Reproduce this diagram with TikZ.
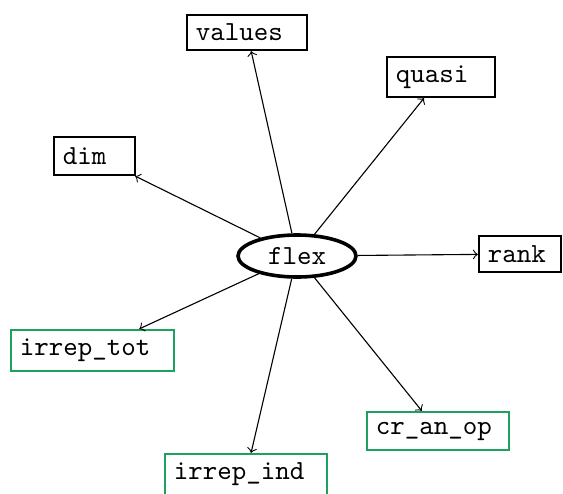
\documentclass[tikz,border=0pt]{standalone}
\usetikzlibrary{shapes.geometric}
\definecolor{boxgreen}{RGB}{30,160,95}
\tikzset{
  every node/.style={font=\ttfamily},
  keybox/.style={draw=black, line width=0.8pt, rectangle, inner xsep=3.2pt,
    inner ysep=0pt, align=left},
  subbox/.style={keybox, draw=boxgreen},
  hub/.style={draw=black, line width=1.3pt, ellipse, inner sep=0pt,
    minimum width=118*0.362pt, minimum height=42*0.362pt},
  link/.style={->, line width=0.4pt},
}
% a box given by its left, right, top and bottom edges (in px units)
\newcommand{\edgebox}[7]{%
  \node[#1, text width={(#4-#3)*0.362pt-6.4pt}, minimum height={(#6-#5)*0.362pt}]
    (#2) at ({(#3+#4)/2},{(#5+#6)/2}) {#7};}
\begin{document}
\begin{tikzpicture}[x=0.362pt, y=-0.362pt]
\useasboundingbox (0,0) rectangle (563,493);
\node[hub] (flex) at (297,256) {flex};
\edgebox{keybox}{values}{187}{307}{15}{50}{values}
\edgebox{keybox}{quasi}{387}{495}{57}{97}{quasi}
\edgebox{keybox}{dim}{54}{135}{137}{175}{dim}
\edgebox{keybox}{rank}{479}{561}{236}{272}{rank}
\edgebox{subbox}{irreptot}{11}{174}{330}{371}{irrep\_tot}
\edgebox{subbox}{cranop}{367}{509}{412}{450}{cr\_an\_op}
\edgebox{subbox}{irrepind}{165}{327}{454}{495}{irrep\_ind}
\foreach \t in {values,quasi,dim,rank,irreptot,cranop,irrepind}
  \draw[link] (flex) -- (\t);
\end{tikzpicture}
\end{document}
